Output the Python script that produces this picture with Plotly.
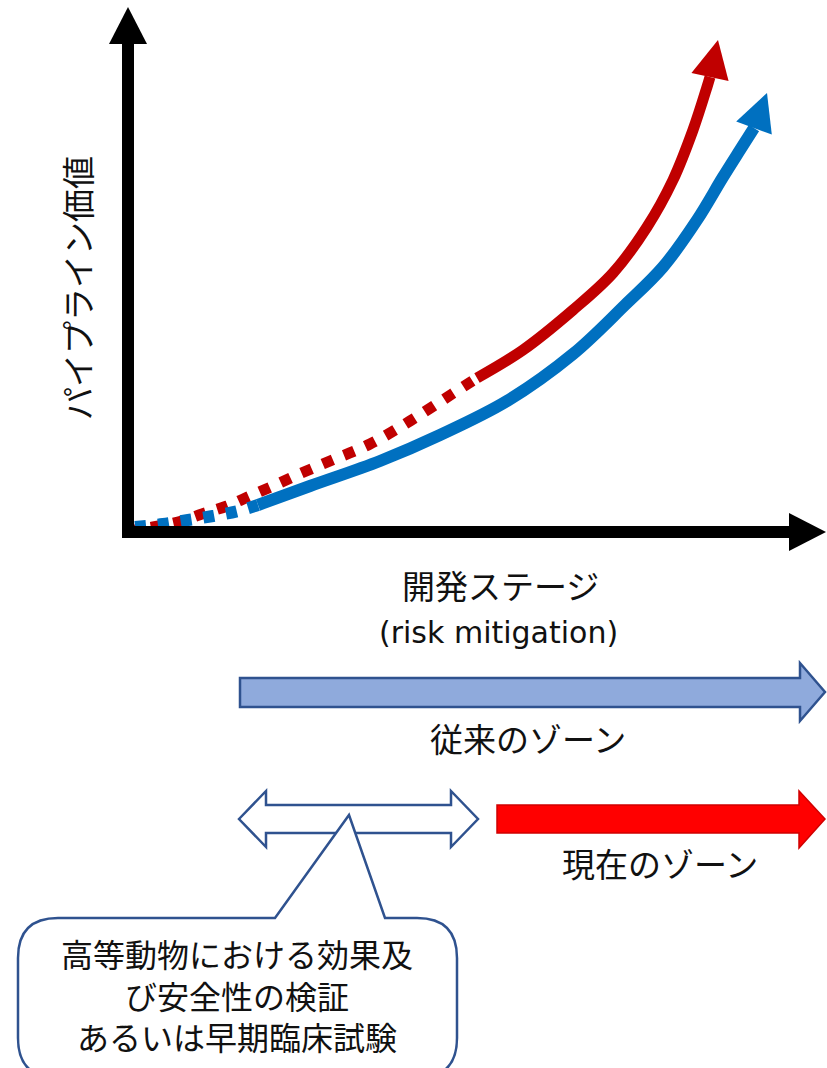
import plotly.graph_objects as go
import math

W, H = 827, 1068

# ---- data: curve points (pixel space of the diagram) ----
red_x = [128, 153, 178, 202, 227, 250, 273, 297, 330, 370, 410, 452, 477,
         523, 573, 613, 647, 673, 693, 707, 710]
red_y = [531, 527, 522, 514, 506, 496, 486, 475, 461, 444, 421, 394, 378,
         350, 310, 273, 227, 180, 130, 87, 77]
red_split = 12          # index where dotted part ends / solid begins
red_tip = (718, 40)

blue_x = [135, 163, 188, 213, 238, 258, 310, 380, 440, 507, 573, 625, 663,
          697, 723, 740, 754]
blue_y = [527, 524, 520, 516, 511, 505, 486, 461, 435, 401, 354, 305, 267,
          220, 177, 150, 128]
blue_split = 5
blue_tip = (767, 93)

# ---- texts ----
y_label = "パイプライン価値"
x_label1 = "開発ステージ"
x_label2 = "(risk mitigation)"
zone_old = "従来のゾーン"
zone_new = "現在のゾーン"
callout_lines = ["高等動物における効果及", "び安全性の検証", "あるいは早期臨床試験"]

RED = "#C00000"
BLUE = "#0070C0"
EDGE = "#2F528F"
JP = "Noto Sans CJK JP"

fig = go.Figure()


def poly_path(pts):
    return "M " + " L ".join(f"{x},{y}" for x, y in pts) + " Z"


def add_curve(xs, ys, split, color, width):
    fig.add_trace(go.Scatter(x=xs[:split + 1], y=ys[:split + 1], mode="lines",
                             line=dict(color=color, width=width, dash="11px,12px", shape="spline"),
                             hoverinfo="skip", showlegend=False))
    fig.add_trace(go.Scatter(x=xs[split:], y=ys[split:], mode="lines",
                             line=dict(color=color, width=width, shape="spline"),
                             hoverinfo="skip", showlegend=False))


def head(base, tip, half):
    bx, by = base
    tx, ty = tip
    dx, dy = tx - bx, ty - by
    L = math.hypot(dx, dy)
    nx, ny = -dy / L, dx / L
    return [(bx + nx * half, by + ny * half), (tx, ty), (bx - nx * half, by - ny * half)]


add_curve(red_x, red_y, red_split, RED, 11)
add_curve(blue_x, blue_y, blue_split, BLUE, 12)

shapes = []
# arrowheads of curves
for xs, ys, tip, col in [(red_x, red_y, red_tip, RED), (blue_x, blue_y, blue_tip, BLUE)]:
    shapes.append(dict(type="path", path=poly_path(head((xs[-1], ys[-1]), tip, 19)),
                       fillcolor=col, line=dict(width=0), layer="above"))

# axes (black thick arrows)
shapes.append(dict(type="rect", x0=122, x1=134, y0=43, y1=538, fillcolor="black", line=dict(width=0)))
shapes.append(dict(type="path", path=poly_path([(109, 44), (128, 7), (147, 44)]), fillcolor="black", line=dict(width=0)))
shapes.append(dict(type="rect", x0=122, x1=790, y0=526, y1=538, fillcolor="black", line=dict(width=0)))
shapes.append(dict(type="path", path=poly_path([(789, 513), (826, 532), (789, 551)]), fillcolor="black", line=dict(width=0)))

# zone arrows
shapes.append(dict(type="path",
                   path=poly_path([(240, 678), (800, 678), (800, 663), (825, 692), (800, 721), (800, 707), (240, 707)]),
                   fillcolor="#8FAADC", line=dict(color=EDGE, width=2.5)))
shapes.append(dict(type="path",
                   path=poly_path([(239, 819), (266, 791), (266, 805), (451, 805), (451, 791), (478, 819),
                                   (451, 847), (451, 833), (266, 833), (266, 847)]),
                   fillcolor="white", line=dict(color=EDGE, width=2.5)))
shapes.append(dict(type="path",
                   path=poly_path([(497, 805), (799, 805), (799, 791), (825, 819), (799, 848), (799, 833), (497, 833)]),
                   fillcolor="#FF0000", line=dict(color="#D00000", width=1.5)))

# callout box with pointer
L_, R_, T_, B_, r = 18, 457, 918, 1078, 40
callout = (f"M {L_ + r},{T_} L 275,{T_} L 349,815 L 385,{T_} L {R_ - r},{T_} "
           f"Q {R_},{T_} {R_},{T_ + r} L {R_},{B_ - r} Q {R_},{B_} {R_ - r},{B_} "
           f"L {L_ + r},{B_} Q {L_},{B_} {L_},{B_ - r} L {L_},{T_ + r} Q {L_},{T_} {L_ + r},{T_} Z")
shapes.append(dict(type="path", path=callout, fillcolor="white", line=dict(color=EDGE, width=2.5)))

annotations = [
    dict(x=77, y=288, text=y_label, textangle=-90, font=dict(family=JP, size=33, color="#111")),
    dict(x=500, y=585, text=x_label1, font=dict(family=JP, size=33, color="#111")),
    dict(x=498, y=632, text=x_label2, font=dict(family="DejaVu Sans", size=30, color="#111")),
    dict(x=528, y=738, text=zone_old, font=dict(family=JP, size=33, color="#111")),
    dict(x=660, y=863, text=zone_new, font=dict(family=JP, size=33, color="#111")),
    dict(x=237, y=994, text="<br>".join(callout_lines), font=dict(family=JP, size=32, color="#111")),
]
for a in annotations:
    a.update(xref="x", yref="y", showarrow=False, xanchor="center", yanchor="middle")

fig.update_layout(
    width=W, height=H, margin=dict(l=0, r=0, t=0, b=0),
    paper_bgcolor="white", plot_bgcolor="white",
    xaxis=dict(range=[0, W], visible=False, fixedrange=True),
    yaxis=dict(range=[H, 0], visible=False, fixedrange=True),
    shapes=shapes, annotations=annotations, showlegend=False,
)
fig.write_html("out.html", config={"displayModeBar": False},
               post_script="document.body.style.margin='0';document.body.style.overflow='hidden';")
